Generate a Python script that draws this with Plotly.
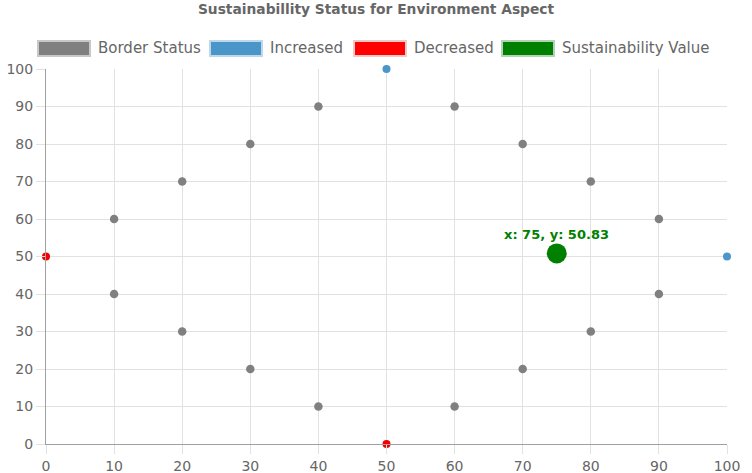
import plotly.graph_objects as go

# border status points (the gray diamond)
border_x = [10, 20, 30, 40, 60, 70, 80, 90, 90, 80, 70, 60, 40, 30, 20, 10]
border_y = [60, 70, 80, 90, 90, 80, 70, 60, 40, 30, 20, 10, 10, 20, 30, 40]

increased_x = [50, 100]
increased_y = [100, 50]

decreased_x = [0, 50]
decreased_y = [50, 0]

sustain_x = [75]
sustain_y = [50.83]

legend_names = ["Border Status", "Increased", "Decreased", "Sustainability Value"]
legend_fill = ["rgb(128,128,128)", "rgb(75,150,200)", "rgb(255,0,0)", "rgb(0,128,0)"]
legend_line = ["rgb(200,200,200)", "rgb(190,215,235)", "rgb(240,200,200)", "rgb(180,210,180)"]

W, H = 752, 473
ML, MR, MT, MB = 46, 25, 69, 29
PW, PH = W - ML - MR, H - MT - MB
FONT = "DejaVu Sans"


def px_x(p):
    return (p - ML) / PW


def px_y(p):
    return (H - MB - p) / PH


fig = go.Figure()

fig.add_trace(go.Scatter(x=border_x, y=border_y, mode="markers",
                         marker=dict(color="rgb(128,128,128)", size=8.5),
                         cliponaxis=False, hoverinfo="x+y"))
fig.add_trace(go.Scatter(x=increased_x, y=increased_y, mode="markers",
                         marker=dict(color="rgb(75,150,200)", size=8),
                         cliponaxis=False, hoverinfo="x+y"))
fig.add_trace(go.Scatter(x=decreased_x, y=decreased_y, mode="markers",
                         marker=dict(color="rgb(240,0,0)", size=8),
                         cliponaxis=False, hoverinfo="x+y"))
fig.add_trace(go.Scatter(x=sustain_x, y=sustain_y, mode="markers",
                         marker=dict(color="rgb(0,128,0)", size=20),
                         cliponaxis=False, hoverinfo="x+y"))

# label above the sustainability point
fig.add_annotation(x=sustain_x[0], y=sustain_y[0],
                   text=f"<b>x: {sustain_x[0]}, y: {sustain_y[0]}</b>",
                   showarrow=False, yshift=19,
                   font=dict(family=FONT, size=13, color="rgb(0,128,0)"))

# chart.js-style legend boxes
box_left = [38, 210, 354, 502]
for i, name in enumerate(legend_names):
    x0 = box_left[i]
    fig.add_shape(type="rect", xref="paper", yref="paper",
                  x0=px_x(x0), x1=px_x(x0 + 52), y0=px_y(56), y1=px_y(41),
                  fillcolor=legend_fill[i], line=dict(color=legend_line[i], width=2))
    fig.add_annotation(xref="paper", yref="paper", x=px_x(x0 + 58), y=px_y(48),
                       text=name, showarrow=False, xanchor="left", yanchor="middle",
                       font=dict(family=FONT, size=15, color="#666"))

axis_style = dict(range=[0, 100], dtick=10, showgrid=True, gridcolor="rgb(225,225,225)",
                  gridwidth=1, zeroline=False, showline=True, linecolor="rgb(160,160,160)",
                  linewidth=1, ticks="outside", ticklen=9, tickcolor="rgb(225,225,225)",
                  automargin=False,
                  tickfont=dict(family=FONT, size=14, color="#666"))

fig.update_xaxes(**axis_style)
fig.update_yaxes(**axis_style)

fig.update_layout(
    width=W, height=H,
    margin=dict(l=ML, r=MR, t=MT, b=MB),
    title=dict(text="<b>Sustainabillity Status for Environment Aspect</b>",
               x=0.5, xref="container", y=1 - 4 / H, yanchor="top",
               font=dict(family=FONT, size=13.8, color="#666")),
    showlegend=False,
    plot_bgcolor="white", paper_bgcolor="white",
)

# page body has a default 8px margin, drop it so the chart fills the window
fig.write_html("out.html", config={"displayModeBar": False},
               post_script="document.body.style.margin='0';")
